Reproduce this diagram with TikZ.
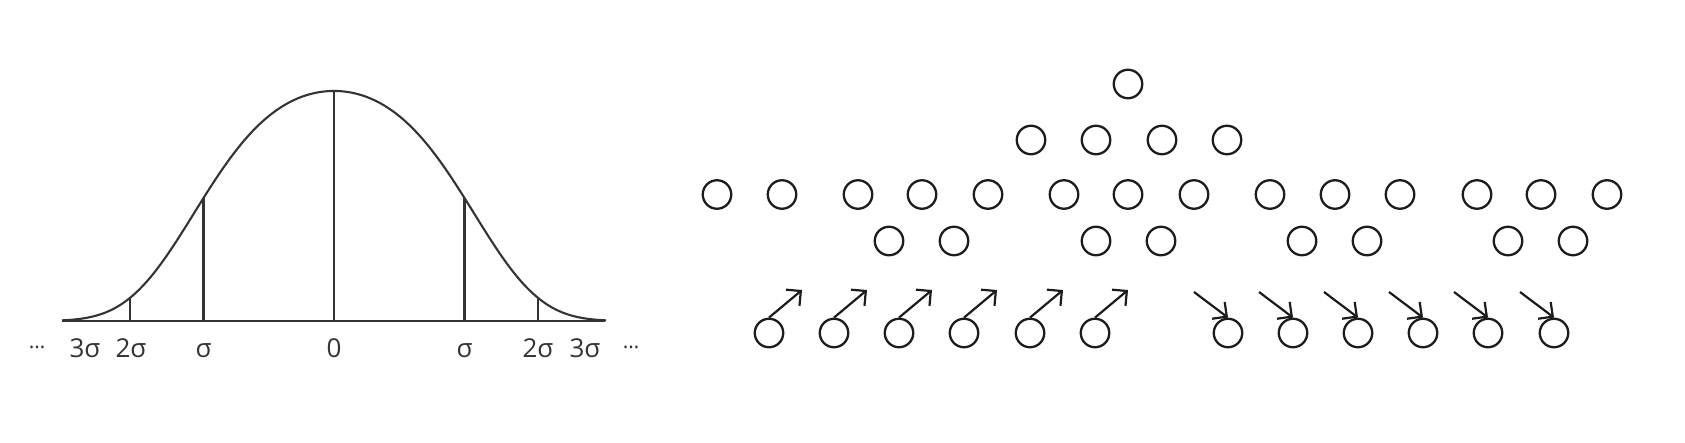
\documentclass[tikz,border=0pt]{standalone}
\usepackage{fontspec}
\setmainfont{Open Sans}
\usetikzlibrary{arrows.meta,positioning}
\definecolor{ink}{HTML}{333333}
\definecolor{ring}{HTML}{1C1C1C}

\begin{document}
\begin{tikzpicture}[x=1pt,y=-1pt,
every node/.style={inner sep=0pt},
ball/.style={circle,draw=ring,line width=2.3pt,minimum size=28.5pt},
lbl/.style={anchor=base,text=ink,font=\fontsize{26}{30}\selectfont},
arr/.style={draw=ring,line width=2.2pt,-{Straight Barb[length=10.5pt,width=21pt]}},
declare function={bell(\t)=321-230*exp(-0.24*(\t/100)^2-0.075*(\t/100)^4);}]
\useasboundingbox (0,0) rectangle (1685,443);
% curve and axis
\draw[ink,line width=2.1pt] plot[domain=-272:272,samples=121,smooth] ({334+\x},{bell(\x)});
\draw[ink,line width=2.1pt] (62,321) -- (605,321);
\draw[ink,line width=2.1pt] (130,321) -- (130,{bell(204)});
\draw[ink,line width=2.1pt] (203.5,321) -- (203.5,{bell(130.5)});
\draw[ink,line width=2.1pt] (334,321) -- (334,{bell(0)});
\draw[ink,line width=2.1pt] (464.5,321) -- (464.5,{bell(130.5)});
\draw[ink,line width=2.1pt] (538,321) -- (538,{bell(204)});
\node[lbl] (dotsl) at (37,348) {\fontsize{21}{24}\selectfont …};
\node[lbl] (t3l) at (85,357) {3σ};
\node[lbl] (t2l) at (131,357) {2σ};
\node[lbl] (t1l) at (203.5,357) {σ};
\node[lbl] (t0) at (334,357) {0};
\node[lbl] (t1r) at (464.5,357) {σ};
\node[lbl] (t2r) at (538,357) {2σ};
\node[lbl] (t3r) at (585,357) {3σ};
\node[lbl] (dotsr) at (631,348) {\fontsize{21}{24}\selectfont …};
% the tree of circles
\node[ball] (a1) at (1128,84) {};
\node[ball] (b1) at (1031,140) {};
\node[ball] (b2) at (1096,140) {};
\node[ball] (b3) at (1162,140) {};
\node[ball] (b4) at (1227,140) {};
\node[ball] (c1) at (717,194.5) {};
\node[ball] (c2) at (782,194.5) {};
\node[ball] (c3) at (858,194.5) {};
\node[ball] (c4) at (922,194.5) {};
\node[ball] (c5) at (988,194.5) {};
\node[ball] (c6) at (1064,194.5) {};
\node[ball] (c7) at (1128,194.5) {};
\node[ball] (c8) at (1194,194.5) {};
\node[ball] (c9) at (1270,194.5) {};
\node[ball] (c10) at (1335,194.5) {};
\node[ball] (c11) at (1400,194.5) {};
\node[ball] (c12) at (1477,194.5) {};
\node[ball] (c13) at (1541,194.5) {};
\node[ball] (c14) at (1607,194.5) {};
\node[ball] (d1) at (889,241) {};
\node[ball] (d2) at (954,241) {};
\node[ball] (d3) at (1096,241) {};
\node[ball] (d4) at (1161,241) {};
\node[ball] (d5) at (1302,241) {};
\node[ball] (d6) at (1367,241) {};
\node[ball] (d7) at (1508,241) {};
\node[ball] (d8) at (1573,241) {};
% rising ones
\node[ball] (m1) at (769,333) {};
\node[ball] (m2) at (834,333) {};
\node[ball] (m3) at (899,333) {};
\node[ball] (m4) at (964,333) {};
\node[ball] (m5) at (1030,333) {};
\node[ball] (m6) at (1095,333) {};
\coordinate (m1t) at (802,290);
\coordinate (m2t) at (867,290);
\coordinate (m3t) at (932,290);
\coordinate (m4t) at (997,290);
\coordinate (m5t) at (1063,290);
\coordinate (m6t) at (1128,290);
\draw[arr] (m1.north) -- (m1t);
\draw[arr] (m2.north) -- (m2t);
\draw[arr] (m3.north) -- (m3t);
\draw[arr] (m4.north) -- (m4t);
\draw[arr] (m5.north) -- (m5t);
\draw[arr] (m6.north) -- (m6t);
% falling ones
\node[ball] (f1) at (1228,333) {};
\node[ball] (f2) at (1293,333) {};
\node[ball] (f3) at (1358,333) {};
\node[ball] (f4) at (1423,333) {};
\node[ball] (f5) at (1488,333) {};
\node[ball] (f6) at (1554,333) {};
\coordinate (f1t) at (1194,292);
\coordinate (f2t) at (1259,292);
\coordinate (f3t) at (1324,292);
\coordinate (f4t) at (1389,292);
\coordinate (f5t) at (1454,292);
\coordinate (f6t) at (1520,292);
\draw[arr] (f1t) -- (f1.north);
\draw[arr] (f2t) -- (f2.north);
\draw[arr] (f3t) -- (f3.north);
\draw[arr] (f4t) -- (f4.north);
\draw[arr] (f5t) -- (f5.north);
\draw[arr] (f6t) -- (f6.north);
\end{tikzpicture}
\end{document}
